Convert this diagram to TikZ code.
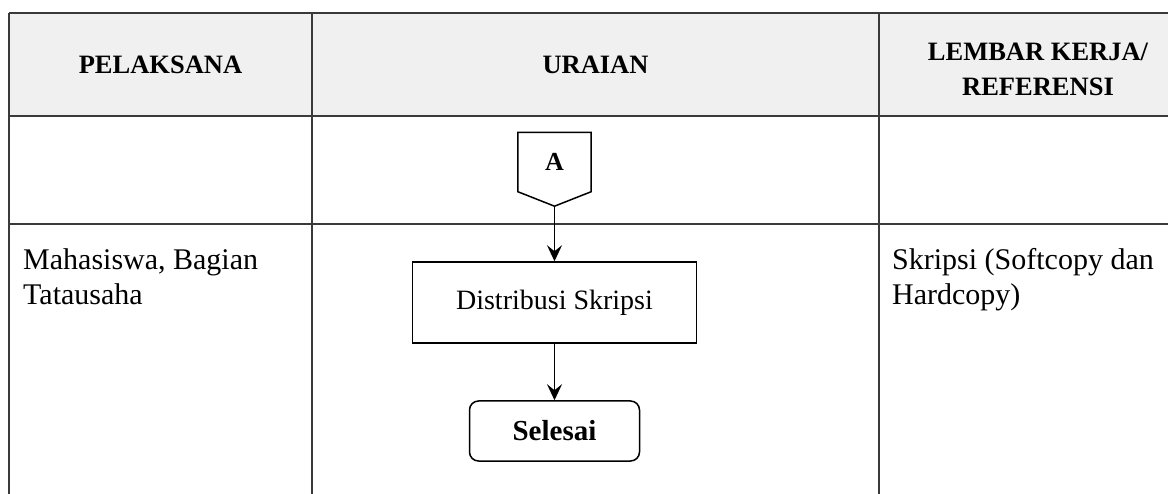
\documentclass[tikz,border=0pt]{standalone}
\usepackage{fontspec}
\setmainfont{Liberation Serif}
\usetikzlibrary{arrows.meta,positioning}

\definecolor{headfill}{HTML}{F0F0F0}
\definecolor{gridline}{HTML}{3A3A3A}

\tikzset{
  gridrule/.style={draw=gridline, line width=1.6pt},
  headtext/.style={font=\fontsize{26.5}{35}\selectfont\bfseries, align=center, inner sep=0pt},
  celltext/.style={font=\fontsize{30}{35}\selectfont, align=left, anchor=north west, inner sep=0pt},
  process/.style={draw, line width=1.5pt, minimum width=284pt, minimum height=81pt, inner sep=0pt,
    font=\fontsize{28}{32}\selectfont},
  terminal/.style={draw, line width=1.5pt, rounded corners=9pt, minimum width=170pt, minimum height=60pt,
    inner sep=0pt, font=\fontsize{29}{32}\selectfont\bfseries},
  offpage/.style={minimum width=73pt, minimum height=59pt, inner sep=0pt, font=\fontsize{26}{30}\selectfont\bfseries},
  flow/.style={-{Stealth[length=16pt,width=15pt,inset=6pt]}, line width=1.6pt}
}

\begin{document}
\begin{tikzpicture}[x=1pt,y=-1pt]
  \useasboundingbox (0,0) rectangle (1168,494);
  % header row
  \fill[headfill] (9,13) rectangle (1168,116);
  \foreach \y in {13,116,224}
    \draw[gridrule] (9,\y) -- (1168,\y);
  \foreach \x in {9,312,879}
    \draw[gridrule] (\x,13) -- (\x,494);
  \node[headtext] (hpel) at (160.5,64.5) {PELAKSANA};
  \node[headtext] (hura) at (595.5,64.5) {URAIAN};
  \node[headtext] (hlem) at (1038,69) {LEMBAR KERJA/\\REFERENSI};
  % cells
  \node[celltext] (pel) at (23,248) {Mahasiswa, Bagian\\Tatausaha};
  \node[celltext] (ref) at (892,248) {Skripsi (Softcopy dan\\Hardcopy)};
  % flow
  \node[offpage] (conA) at (554.5,162) {A};
  \coordinate[below=14.5pt of conA.south] (tipA);
  \draw[line width=1.5pt] (conA.north west) -- (conA.north east) -- (conA.south east)
    -- (tipA) -- (conA.south west) -- cycle;
  \node[process] (distrib) at (554.5,302.5) {Distribusi Skripsi};
  \node[terminal] (selesai) at (554.5,431) {Selesai};
  \draw[flow] (tipA) -- (distrib);
  \draw[flow] (distrib) -- (selesai);
\end{tikzpicture}
\end{document}
